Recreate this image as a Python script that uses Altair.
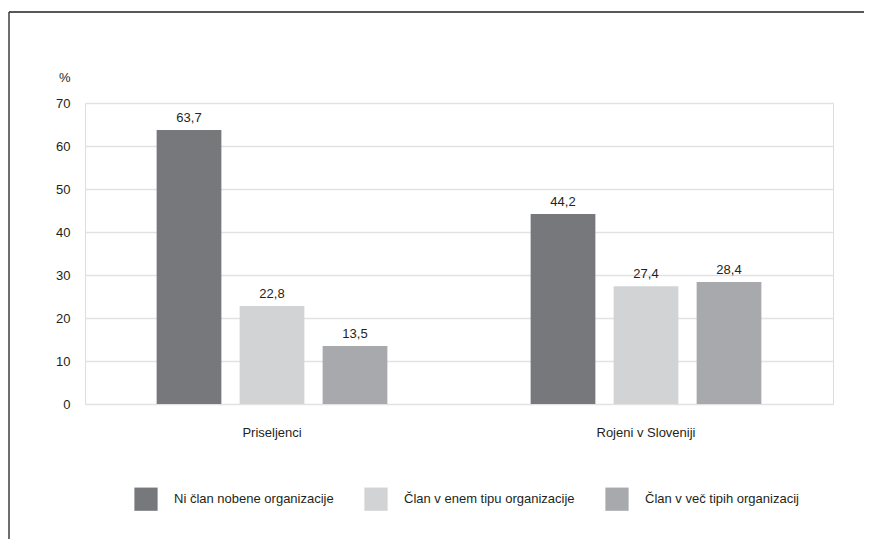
import altair as alt
import pandas as pd

groups = ["Priseljenci", "Rojeni v Sloveniji"]
series = ["Ni član nobene organizacije", "Član v enem tipu organizacije", "Član v več  tipih organizacij"]
values_priseljenci = [63.7, 22.8, 13.5]
values_rojeni = [44.2, 27.4, 28.4]
colors = ["#77787b", "#d1d3d4", "#a7a9ac"]
y_ticks = [0, 10, 20, 30, 40, 50, 60, 70]

rows = []
for g, vals in zip(groups, [values_priseljenci, values_rojeni]):
    for s, v in zip(series, vals):
        rows.append({"group": g, "series": s, "value": v})
df = pd.DataFrame(rows)

FONT = "Liberation Sans Narrow, Liberation Sans, Arial, sans-serif"
FS = 13
TXT = "#231f20"

x_enc = alt.X("group:N", sort=groups,
              scale=alt.Scale(paddingInner=0, paddingOuter=0),
              axis=alt.Axis(title=None, labelAngle=0, ticks=False, domain=False,
                            labelPadding=22, labelFontSize=FS, labelFont=FONT,
                            labelColor=TXT))
xo_enc = alt.XOffset("series:N", sort=series,
                     scale=alt.Scale(paddingInner=0.22, paddingOuter=0.863))
y_enc = alt.Y("value:Q", scale=alt.Scale(domain=[0, 70], nice=False),
              axis=alt.Axis(values=y_ticks, title="%", titleAngle=0,
                            titleX=-15, titleY=-22, titleAlign="right",
                            titleBaseline="alphabetic", titleFontSize=FS,
                            titleFontWeight="normal", titleFont=FONT, titleColor=TXT,
                            ticks=False, domain=False, labelPadding=15,
                            labelFontSize=FS, labelFont=FONT, labelColor=TXT,
                            grid=True, gridColor="#e2e2e2", gridWidth=1.5))

base = alt.Chart(df)

bars = base.mark_bar().encode(
    x=x_enc,
    xOffset=xo_enc,
    y=y_enc,
    color=alt.Color("series:N", sort=series,
                    scale=alt.Scale(domain=series, range=colors),
                    legend=alt.Legend(title=None, orient="none", direction="horizontal",
                                      legendX=49, legendY=384,
                                      symbolType="square", symbolSize=540,
                                      symbolStrokeWidth=0, labelOffset=16,
                                      columnPadding=30, labelFontSize=FS,
                                      labelFont=FONT, labelColor=TXT,
                                      labelLimit=400)),
)

labels = base.mark_text(baseline="alphabetic", dy=-8, fontSize=FS, font=FONT,
                        color=TXT).encode(
    x=alt.X("group:N", sort=groups),
    xOffset=alt.XOffset("series:N", sort=series),
    y=alt.Y("value:Q"),
    text=alt.Text("lbl:N"),
).transform_calculate(lbl="replace(format(datum.value, '.1f'), '.', ',')")

frame_data = alt.Data(values=[{"a": 1}])
top_rule = alt.Chart(frame_data).mark_rule(color="#231f20", strokeWidth=1.3).encode(
    x=alt.value(-76), x2=alt.value(780), y=alt.value(-91))
left_rule = alt.Chart(frame_data).mark_rule(color="#231f20", strokeWidth=1.3).encode(
    x=alt.value(-76), y=alt.value(-91), y2=alt.value(436))

chart = alt.layer(bars, labels, top_rule, left_rule).properties(
    width=748, height=301,
    autosize=alt.AutoSizeParams(type="none"),
    padding={"left": 77, "top": 95, "right": 31, "bottom": 135},
).configure_view(stroke="#dcdcdc", strokeWidth=1.5).configure(background="white")

chart.save("out.html", embed_options={"renderer": "svg", "actions": False})
